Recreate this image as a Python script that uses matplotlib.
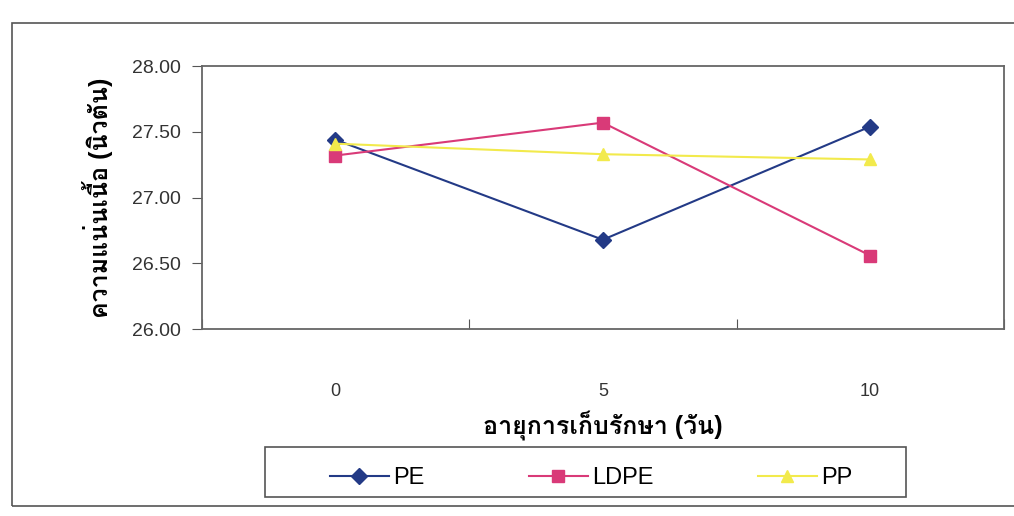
import matplotlib
matplotlib.use('Agg')
import matplotlib.pyplot as plt
from matplotlib import font_manager
from matplotlib.ft2font import FT2Font
from matplotlib.patches import Rectangle

days = ['0', '5', '10']
pe = [27.44, 26.68, 27.54]
ldpe = [27.32, 27.57, 26.56]
pp = [27.41, 27.33, 27.29]
y_ticks = [26.00, 26.50, 27.00, 27.50, 28.00]

x_title = 'อายุการเก็บรักษา (วัน)'
y_title = 'ความแน่นเนื้อ (นิวตัน)'


def thai_family():
    # pick an installed face that can draw Thai script
    for f in font_manager.fontManager.ttflist:
        try:
            if FT2Font(f.fname).get_char_index(ord('ก')):
                return f.name
        except Exception:
            pass
    return 'DejaVu Sans'


thai = thai_family()
plt.rcParams['font.family'] = ['Liberation Sans', thai, 'DejaVu Sans']

fig = plt.figure(figsize=(10.14, 5.16), dpi=100)
# outer chart border and the legend box
fig.patches.append(Rectangle((0.012, 0.02), 0.99, 0.935, transform=fig.transFigure,
                             fill=False, edgecolor='#555555', linewidth=1.2))
fig.patches.append(Rectangle((0.261, 0.037), 0.632, 0.097, transform=fig.transFigure,
                             fill=False, edgecolor='#555555', linewidth=1.2))

ax = fig.add_axes([0.199, 0.362, 0.791, 0.51])
x = range(len(days))
ax.plot(x, pe, color='#233a86', marker='D', markersize=8, linewidth=1.5, label='PE')
ax.plot(x, ldpe, color='#d93a78', marker='s', markersize=8, linewidth=1.5, label='LDPE')
ax.plot(x, pp, color='#f2ea4c', marker='^', markersize=9, linewidth=1.5, label='PP')

ax.set_xlim(-0.5, 2.5)
ax.set_ylim(26.0, 28.0)
ax.set_yticks(y_ticks)
ax.set_yticklabels(['%.2f' % v for v in y_ticks], fontsize=14, color='#333333')
ax.set_xticks([-0.5, 0.5, 1.5, 2.5])
ax.set_xticklabels([])
ax.set_xticks(list(x), minor=True)
ax.set_xticklabels(days, minor=True, fontsize=13, color='#333333')
ax.tick_params(axis='x', which='minor', length=0, pad=39)
ax.tick_params(axis='x', which='major', length=7, direction='in', color='#555555')
ax.tick_params(axis='y', length=7, direction='out', color='#555555', pad=8)
for s in ax.spines.values():
    s.set_color('#666666')
    s.set_linewidth(1.3)

ax.set_xlabel(x_title, fontsize=18, fontweight='bold', labelpad=8)
ax.set_ylabel(y_title, fontsize=18, fontweight='bold', labelpad=14)

leg = fig.legend(loc='center', bbox_to_anchor=(0.583, 0.074), ncol=3, fontsize=17,
                 frameon=False, handlelength=2.5, handletextpad=0.2,
                 columnspacing=4.4)

fig.savefig('out.png', dpi=100)
